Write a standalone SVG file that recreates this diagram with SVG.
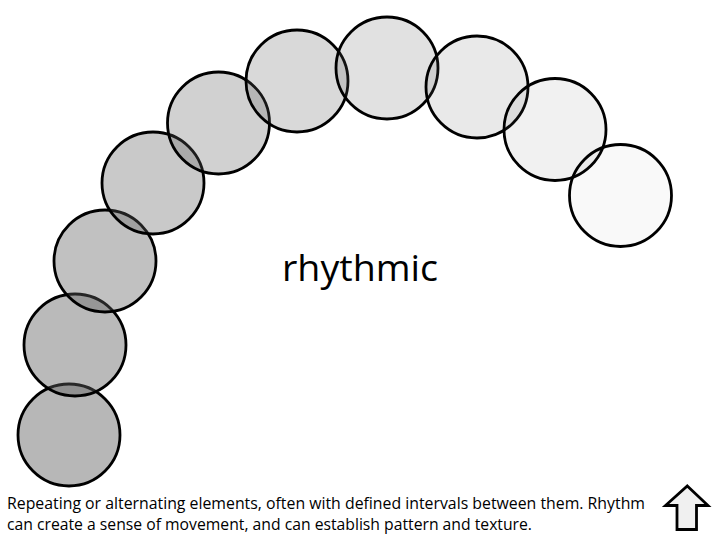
<svg xmlns="http://www.w3.org/2000/svg" width="720" height="540" viewBox="0 0 720 540">
<style>
.c{fill:#606060;stroke:#000;stroke-width:2.8}
.t{font-family:"Open Sans","Noto Sans","Liberation Sans",sans-serif;fill:#000}
</style>
<rect width="720" height="540" fill="#fff"/>
<g id="circles">
<g id="c1"><circle class="c" cx="69" cy="435" r="51" fill-opacity="0.45"/></g>
<g id="c2"><circle class="c" cx="75" cy="345" r="51" fill-opacity="0.43"/></g>
<g id="c3"><circle class="c" cx="105" cy="261" r="51" fill-opacity="0.39"/></g>
<g id="c4"><circle class="c" cx="153" cy="183" r="51" fill-opacity="0.34"/></g>
<g id="c5"><circle class="c" cx="218.5" cy="123" r="51" fill-opacity="0.29"/></g>
<g id="c6"><circle class="c" cx="297" cy="81" r="51" fill-opacity="0.24"/></g>
<g id="c7"><circle class="c" cx="387" cy="68" r="51" fill-opacity="0.19"/></g>
<g id="c8"><circle class="c" cx="477" cy="87" r="51" fill-opacity="0.14"/></g>
<g id="c9"><circle class="c" cx="555" cy="129.5" r="51" fill-opacity="0.09"/></g>
<g id="c10"><circle class="c" cx="620.5" cy="195.5" r="51" fill-opacity="0.035"/></g>
</g>
<g id="title"><text class="t" x="282" y="281" font-size="36" textLength="156" lengthAdjust="spacingAndGlyphs">rhythmic</text></g>
<g id="caption">
<text class="t" x="7" y="509" font-size="16" textLength="638" lengthAdjust="spacingAndGlyphs">Repeating or alternating elements, often with defined intervals between them. Rhythm</text>
<text class="t" x="7" y="530" font-size="16" textLength="525" lengthAdjust="spacingAndGlyphs">can create a sense of movement, and can establish pattern and texture.</text>
</g>
<g id="arrow"><path d="M687.3,486 L708,505.5 L696.5,505.5 L696.5,529.5 L677,529.5 L677,505.5 L665.5,505.5 Z" fill="#f0f0f0" stroke="#000" stroke-width="2.8" stroke-linejoin="miter"/></g>
</svg>
